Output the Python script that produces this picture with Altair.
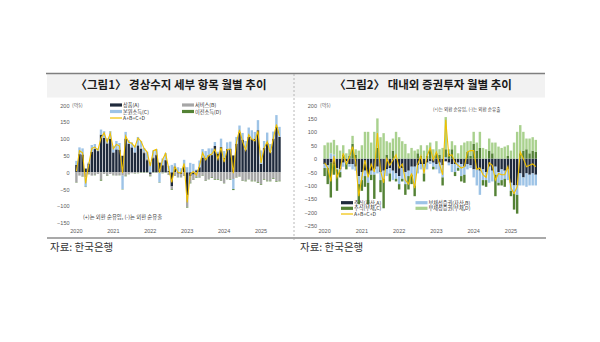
import altair as alt
import pandas as pd

# ---------------- data ----------------
start_year = 2020
year_ticks = [2020, 2021, 2022, 2023, 2024, 2025]

# Figure 1: current account components (억$), 2020.01 - 2025.07
goods = [22, 54, 53, 11, 26, 61, 69, 63, 112, 102, 86, 100,
         59, 68, 67, 49, 100, 85, 74, 59, 80, 70, 57, 36,
         -5, 42, 51, 28, 21, 36, 4, -42, 17, -4, -6, 17,
         -68, -11, -7, 6, 15, 44, 43, 51, 51, 78, 56, 75,
         43, 69, 70, 50, 85, 119, 97, 68, 105, 100, 100, 125,
         25, 73, 88, 60, 100, 135, 105]
services = [-30, -10, -12, -15, -5, -10, -8, -5, -22, -5, -10, -5,
            -8, -10, -8, -10, -10, -5, -3, -3, -2, 3, 5, 5,
            -5, 5, 3, 2, -2, 1, -7, -8, -10, -10, -8, -10,
            -35, -20, -15, -14, -15, -10, -25, -20, -15, -20, -20, -25,
            -32, -20, -20, -20, -15, -12, -25, -25, -20, -25, -25, -30,
            -35, -20, -25, -25, -18, -26, -25]
primary = [12, 20, 18, -28, 3, 20, 15, 8, 15, 20, 15, 20,
           20, 25, 20, -40, 20, 10, 15, 20, 25, 20, 10, 20,
           30, 18, 15, -30, 20, 20, 15, 22, 10, 15, 12, 20,
           15, 28, 25, 2, 20, 25, 20, 20, 20, 12, 5, 25,
           20, 20, 21, -30, 20, 20, 20, 25, 28, 25, 20, 30,
           40, 20, 30, 24, 21, 35, 30]
secondary = [-1, 0, -1, -1, -1, 0, -1, 0, -3, 0, -1, 1,
             -1, 0, -1, -1, -2, -1, 0, -1, -1, -1, -1, -1,
             -2, -1, -1, -1, -1, -1, -1, -2, -1, -1, -1, -1,
             -2, -2, -1, -2, -1, -1, -1, -1, -2, -2, -2, -1,
             -1, -1, -2, -3, -1, -1, -1, -2, -1, -2, -2, -2,
             -2, -2, -2, -2, -2, -2, -2]

# Figure 2: portfolio investment components (억$), 2020.01 - 2025.09
eq_assets = [-20, -25, -15, -20, -35, -40, -15, -10, -20, -20, -30, -65,
             -50, -45, -60, -45, -40, -30, -50, -45, -40, -35, -45, -55,
             -65, -35, -50, -45, -30, -30, -25, -20, -20, -15, -10, -15,
             -20, -15, -25, -10, -15, -20, -20, -15, -20, -30, -20, -25,
             -40, -40, -45, -40, -50, -30, -45, -30, -50, -40, -45, -40,
             -90, -100, -100, -55, -70, -55, -60, -55, -60]
debt_assets = [-15, -10, 20, 15, -5, -10, -15, -5, -10, -20, -15, -30,
               -30, -20, -30, -15, -20, -25, -30, -30, -25, -20, -35, -20,
               -30, -40, -45, -20, -30, -70, -30, -20, -35, -25, -10, -15,
               -20, -40, -45, 5, -10, -30, -30, -20, -45, -30, -20, -10,
               -30, -60, -90, -40, -30, -60, -40, -30, -40, -40, -30, -40,
               -30, -30, -35, -45, -30, -50, -40, -45, -40]
eq_liab = [-30, -60, -130, -40, -80, -20, 15, -25, 10, 55, 15, -75,
           -40, -40, -80, -20, -90, 40, -45, -110, 15, -30, 30, -10,
           -20, -10, -40, -50, -35, -40, 20, 10, -30, 10, 35, -10,
           20, 15, -30, 30, 20, 35, -15, -10, -20, -30, 25, 10,
           55, 30, 40, -20, -25, 30, 20, -80, -10, -20, -30, 10,
           -20, -60, -70, 20, 30, 35, 20, 30, 25]
debt_liab = [50, 60, 40, 55, 50, 30, 35, 20, 25, 30, 20, 30,
             50, 100, 100, 60, 100, 110, 80, 95, 50, 60, 45, 100,
             80, 65, 55, 20, 40, 30, 15, 40, 30, 40, 25, 35,
             45, 20, 40, 120, 15, 30, 50, 20, 50, 60, 40, 55,
             45, 30, 60, 40, 35, 45, 40, 60, 45, 40, 45, 40,
             30, 60, 100, 105, 70, 40, 55, 50, 45]

names1 = ["상품(A)", "서비스(B)", "본원소득(C)", "이전소득(D)"]
colors1 = ["#1f2a3c", "#a6a6a6", "#9dc3e6", "#548235"]
names2 = ["주식(자산,A)", "부채성증권(자산,B)", "주식(부채,C)", "부채성증권(부채,D)"]
colors2 = ["#1f2a3c", "#9dc3e6", "#548235", "#a9d18e"]
sum_name = "A+B+C+D"
sum_color = "#f0c000"

title1 = "〈그림1〉 경상수지 세부 항목 월별 추이"
title2 = "〈그림2〉 대내외 증권투자 월별 추이"
source = "자료: 한국은행"
note = "(+)는 외환 순유입, (-)는 외환 순유출"
unit = "(억$)"

y1_ticks = [-150, -100, -50, 0, 50, 100, 150, 200]
y2_ticks = [-250, -200, -150, -100, -50, 0, 50, 100, 150, 200]

FONT = "Noto Sans CJK KR"
AX = "#595959"


def long_df(series, names, colors):
    rows = []
    for k, (vals, nm, col) in enumerate(zip(series, names, colors)):
        for i, v in enumerate(vals):
            rows.append({"m": i, "s": nm, "o": k, "c": col, "v": v})
    return pd.DataFrame(rows)


def total_df(series):
    n = len(series[0])
    return pd.DataFrame({"m": list(range(n)),
                         "v": [sum(s[i] for s in series) for i in range(n)]})


def panel(series, names, colors, xrange, ydomain, yrange, yticks, y_offset):
    xenc = alt.X("m:O",
                 scale=alt.Scale(range=xrange, paddingInner=0.22, paddingOuter=0),
                 axis=alt.Axis(values=[12 * j for j in range(len(year_ticks))],
                               labelExpr=f"toString({start_year} + floor(datum.value / 12))",
                               orient="bottom", offset=-117, title=None, domain=False,
                               ticks=False, tickSize=0, labelPadding=3, labelFontSize=5.5,
                               labelColor=AX, labelFont="Liberation Sans", labelAngle=0,
                               grid=False))
    yscale = alt.Scale(domain=ydomain, range=yrange, nice=False, zero=False)
    yax = alt.Axis(values=yticks, orient="left", offset=y_offset, title=None,
                   domain=False, ticks=False, tickSize=0, labelPadding=1,
                   labelFontSize=5.5, labelColor=AX, labelFont="Liberation Sans",
                   grid=False)
    bars = alt.Chart(long_df(series, names, colors)).mark_bar().encode(
        x=xenc,
        y=alt.Y("v:Q", stack="zero", scale=yscale, axis=yax),
        color=alt.Color("c:N", scale=None),
        order=alt.Order("o:Q"),
    )
    line = alt.Chart(total_df(series)).mark_line(color=sum_color, strokeWidth=1.1).encode(
        x=xenc,
        y=alt.Y("v:Q", stack=None, scale=yscale, axis=yax),
    )
    return alt.layer(bars, line)


p1 = panel([goods, services, primary, secondary], names1, colors1,
           [75.2, 280.7], [-150, 200], [222.7, 105], y1_ticks, -70)
p2 = panel([eq_assets, debt_assets, eq_liab, debt_liab], names2, colors2,
           [323.4, 537.0], [-250, 200], [225.7, 105], y2_ticks, -317.5)

one = pd.DataFrame({"k": [0]})


def rect(x, x2, y, y2, color):
    return alt.Chart(one).mark_rect(color=color).encode(
        x=alt.value(x), x2=alt.value(x2), y=alt.value(y), y2=alt.value(y2))


def rule(x, x2, y, y2, color, width, dash=None):
    kw = dict(color=color, strokeWidth=width)
    if dash:
        kw["strokeDash"] = dash
    return alt.Chart(one).mark_rule(**kw).encode(
        x=alt.value(x), x2=alt.value(x2), y=alt.value(y), y2=alt.value(y2))


def text(t, x, y, size, align="left", color="#262626", weight="normal", font=FONT):
    return alt.Chart(one).mark_text(text=t, align=align, baseline="middle", fontSize=size,
                                    color=color, fontWeight=weight, font=font).encode(
        x=alt.value(x), y=alt.value(y))


deco = [
    rect(47, 545, 74, 97.5, "#f2f2f2"),
    rule(46, 545, 73.5, 73.5, "#7f7f7f", 1.6),
    rule(47, 546, 238, 238, "#8c8c8c", 1.6),
    rule(294, 294, 74, 240, "#a6a6a6", 0.8, [2, 2]),
    text(title1, 171, 86, 11.5, align="center", color="#1a1a1a", weight="bold"),
    text(title2, 423, 86, 11.5, align="center", color="#1a1a1a", weight="bold"),
    text(source, 50, 248, 10.5, color="#333333"),
    text(source, 300, 248, 10.5, color="#333333"),
    text(unit, 72, 105, 5, color=AX),
    text(unit, 320, 105, 5, color=AX),
    text(note, 83, 216.5, 5.4, color="#404040"),
    text(note, 433, 110, 4.6, color="#404040"),
]

legend = []


def swatch(x, y, color, label, is_line=False):
    out = []
    if is_line:
        out.append(rule(x, x + 12, y, y, color, 1.2))
    else:
        out.append(rect(x, x + 12, y - 1.6, y + 1.6, color))
    out.append(text(label, x + 13, y, 5.2, color="#333333"))
    return out


legend += swatch(110, 105, colors1[0], names1[0])
legend += swatch(110, 111.5, colors1[2], names1[2])
legend += swatch(110, 118, sum_color, sum_name, is_line=True)
legend += swatch(182, 105, colors1[1], names1[1])
legend += swatch(182, 111.5, colors1[3], names1[3])

legend += swatch(341, 202.7, colors2[0], names2[0])
legend += swatch(341, 208.3, colors2[2], names2[2])
legend += swatch(341, 214, sum_color, sum_name, is_line=True)
legend += swatch(415.5, 202.7, colors2[1], names2[1])
legend += swatch(415.5, 208.3, colors2[3], names2[3])

chart = alt.layer(*deco[:4], p1, p2, *deco[4:], *legend).resolve_scale(
    x="independent", y="independent"
).resolve_axis(x="independent", y="independent").properties(
    width=600, height=342, autosize=alt.AutoSizeParams(type="none"), padding=0,
    background="white"
).configure_view(stroke=None)

chart.save("out.html", embed_options={"renderer": "svg", "actions": False})
